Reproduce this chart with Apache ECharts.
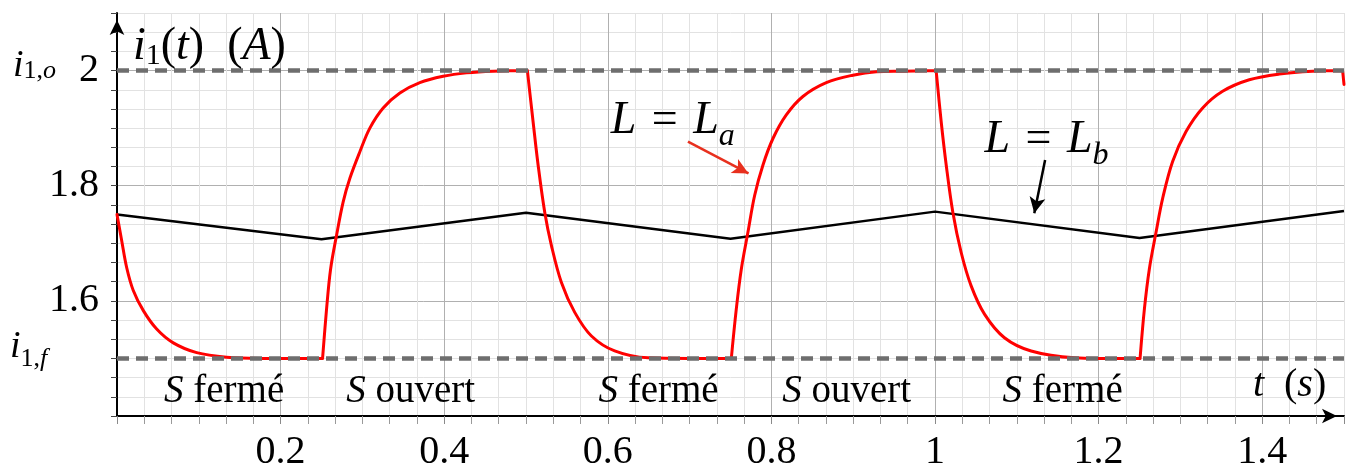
<!DOCTYPE html>
<html>
<head>
<meta charset="utf-8">
<script src="https://cdn.jsdelivr.net/npm/echarts@6/dist/echarts.min.js"></script>
<style>html,body{margin:0;padding:0;background:#fff}#c{width:1352px;height:470px}</style>
</head>
<body>
<div id="c"></div>
<script>
// ---------- data ----------
const redT = [0, 0.0057, 0.0118, 0.0199, 0.0322, 0.0485, 0.0688, 0.0974, 0.134, 0.175, 0.2513,
  0.2562, 0.2611, 0.2684, 0.2765, 0.2847, 0.2969, 0.3091, 0.3254, 0.3458, 0.3702, 0.3987, 0.4272, 0.460, 0.5017,
  0.5086, 0.5148, 0.5229, 0.5311, 0.5433, 0.5596, 0.580, 0.6084, 0.6491, 0.700, 0.7510,
  0.7571, 0.7632, 0.7713, 0.7795, 0.7897, 0.8019, 0.8182, 0.8385, 0.8671, 0.8996, 0.9282, 0.960, 1.0014,
  1.0075, 1.0137, 1.0218, 1.032, 1.0442, 1.0605, 1.0849, 1.1175, 1.1704, 1.200, 1.2507,
  1.256, 1.262, 1.2702, 1.2783, 1.2905, 1.3069, 1.3272, 1.3516, 1.3842, 1.4209, 1.4616, 1.4983, 1.5];
const redI = [1.750, 1.705, 1.658, 1.618, 1.583, 1.551, 1.527, 1.510, 1.502, 1.500, 1.500,
  1.586, 1.655, 1.714, 1.772, 1.813, 1.859, 1.900, 1.935, 1.961, 1.979, 1.990, 1.996, 1.999, 2.000,
  1.912, 1.836, 1.754, 1.696, 1.632, 1.580, 1.539, 1.513, 1.501, 1.500, 1.500,
  1.586, 1.655, 1.719, 1.783, 1.836, 1.882, 1.923, 1.955, 1.979, 1.992, 1.998, 1.999, 2.000,
  1.912, 1.836, 1.754, 1.684, 1.626, 1.577, 1.536, 1.513, 1.501, 1.500, 1.500,
  1.586, 1.655, 1.719, 1.778, 1.842, 1.894, 1.935, 1.964, 1.984, 1.994, 1.999, 2.000, 1.976];
const blackT = [0, 0.25, 0.5, 0.75, 1.0, 1.25, 1.5];
const blackI = [1.750, 1.707, 1.753, 1.708, 1.755, 1.709, 1.756];
const levelHigh = 2.0;   // i_{1,o}
const levelLow = 1.5;    // i_{1,f}
const xTickLabels = ['0.2', '0.4', '0.6', '0.8', '1', '1.2', '1.4'];
const yTickLabels = ['1.6', '1.8', '2'];
const phaseLabels = ['fermé', 'ouvert', 'fermé', 'ouvert', 'fermé'];
const phaseCenters = [0.131, 0.359, 0.662, 0.892, 1.156];

// ---------- annotation placement (not data) ----------
const phaseY = 1.4428;
const arrowA = [[0.698, 1.8765], [0.772, 1.8213]];
const arrowB = [[1.1346, 1.8445], [1.1214, 1.7521]];

const SERIF = '"Liberation Serif", "DejaVu Serif", serif';
const chart = echarts.init(document.getElementById('c'), null, {renderer: 'canvas'});

const pairs = (a, b) => a.map((t, i) => [t, b[i]]);
// red curve: break the smoothed path at the switching instants (sharp corners)
function switchedPairs(ts, vs) {
  const out = [];
  for (let i = 0; i < ts.length; i++) {
    out.push([ts[i], vs[i]]);
    const nxt = vs[i + 1];
    if (nxt === undefined) continue;
    const corner = (vs[i] === levelLow && nxt > levelLow + 0.05) ||
                   (vs[i] === levelHigh && nxt < levelHigh - 0.01);
    if (corner) { out.push([ts[i], null]); out.push([ts[i], vs[i]]); }
  }
  return out;
}
const fmt = (list) => (v) => { const s = String(+(+v).toFixed(3)); return list.includes(s) ? s : ''; };

const xSplitColors = ['#b0b0b0','#b0b0b0','#b0b0b0','#b0b0b0','#b0b0b0','#b0b0b0','#b0b0b0','#b0b0b0','#e2e2e2'];
const ySplitColors = ['#b0b0b0','#b0b0b0','#b0b0b0','#b0b0b0','#e2e2e2'];

const option = {
  animation: false,
  backgroundColor: '#fff',
  grid: {left: 117, right: 8, top: 13, bottom: 54, containLabel: false, outerBoundsMode: 'none'},
  xAxis: {
    type: 'value', min: 0, max: 1.5, interval: 0.2,
    axisLine: {show: true, onZero: false, lineStyle: {color: '#000', width: 2},
      symbol: ['none', 'arrow'], symbolSize: [11, 15], symbolOffset: [0, -7]},
    axisTick: {show: true, length: 8, lineStyle: {color: '#8a8a8a', width: 1}},
    minorTick: {show: true, splitNumber: 6, length: 8, lineStyle: {color: '#9a9a9a', width: 1}},
    axisLabel: {show: true, fontSize: 40, fontFamily: SERIF, color: '#000', margin: 16,
      showMinLabel: false, showMaxLabel: false, formatter: fmt(xTickLabels)},
    splitLine: {show: true, lineStyle: {color: xSplitColors, width: 1}},
    minorSplitLine: {show: true, lineStyle: {color: '#e2e2e2', width: 1}}
  },
  yAxis: {
    type: 'value', min: 1.4, max: 2.1, interval: 0.2,
    axisLine: {show: true, onZero: false, lineStyle: {color: '#000', width: 2},
      symbol: ['none', 'arrow'], symbolSize: [11, 15], symbolOffset: [0, -7]},
    axisTick: {show: true, length: 6, lineStyle: {color: '#444', width: 1}},
    minorTick: {show: true, splitNumber: 6, length: 6, lineStyle: {color: '#444', width: 1}},
    axisLabel: {show: true, fontSize: 40, fontFamily: SERIF, color: '#000', margin: 18,
      showMinLabel: false, showMaxLabel: false, formatter: fmt(yTickLabels)},
    splitLine: {show: true, lineStyle: {color: ySplitColors, width: 1}},
    minorSplitLine: {show: true, lineStyle: {color: '#e2e2e2', width: 1}}
  },
  series: [
    {
      name: 'L = Lb', type: 'line', data: pairs(blackT, blackI), showSymbol: false, z: 3,
      lineStyle: {color: '#000', width: 2.5}, silent: true,
      markLine: {silent: true, symbol: ['none', 'arrow'], symbolSize: [12, 16], label: {show: false},
        lineStyle: {color: '#000', width: 2.5, type: 'solid'},
        data: [[{coord: arrowB[0]}, {coord: arrowB[1]}]]}
    },
    {
      name: 'L = La', type: 'line', data: switchedPairs(redT, redI), showSymbol: false, z: 4,
      smooth: 0.35, connectNulls: false,
      lineStyle: {color: '#ff0000', width: 3, cap: 'round', join: 'round'}, silent: true,
      markLine: {silent: true, symbol: ['none', 'arrow'], symbolSize: [12, 16], label: {show: false},
        lineStyle: {color: '#e8301e', width: 2.5, type: 'solid'},
        data: [[{coord: arrowA[0]}, {coord: arrowA[1]}]]}
    },
    {
      name: 'levels', type: 'line', data: [], z: 6, silent: true,
      markLine: {silent: true, symbol: ['none', 'none'], label: {show: false}, z: 6,
        lineStyle: {color: '#6e6e6e', width: 4.5, type: [12, 7]},
        data: [{yAxis: levelHigh}, {yAxis: levelLow}]}
    }
  ]
};
chart.setOption(option);

// ---------- text annotations, placed through the chart's scales ----------
const P = (t, v) => chart.convertToPixel({gridIndex: 0}, [t, v]);
function rich(size, subSize, subPad, eqPad) {
  return {
    v: {fontFamily: SERIF, fontStyle: 'italic', fontSize: size, fill: '#000', color: '#000'},
    n: {fontFamily: SERIF, fontSize: size, fill: '#000', color: '#000'},
    e: {fontFamily: SERIF, fontSize: size, fill: '#000', color: '#000', padding: [0, eqPad || 0, 0, eqPad || 0]},
    s: {fontFamily: SERIF, fontSize: subSize, fill: '#000', color: '#000', padding: [subPad, 0, 0, 0]},
    si: {fontFamily: SERIF, fontStyle: 'italic', fontSize: subSize, fill: '#000', color: '#000', padding: [subPad, 0, 0, 0]}
  };
}
function txt(x, y, text, r, align) {
  return {type: 'text', x: x, y: y, silent: true, z: 20,
    style: {text: text, rich: r, align: align || 'left', textAlign: align || 'left',
      verticalAlign: 'middle', textVerticalAlign: 'middle', fill: '#000',
      fontFamily: SERIF, fontSize: 36}};
}
const g = [];
const o = P(0, levelHigh), f = P(0, levelLow);
g.push(txt(o[0] - 104, o[1] - 4.5, '{v|i}{s|1,}{si|o}', rich(38, 26, 11)));
g.push(txt(f[0] - 107, f[1] - 11.7, '{v|i}{s|1,}{si|f}', rich(38, 26, 24)));
const yn = P(0.0195, 2.0403);
g.push(txt(yn[0], yn[1], '{v|i}{s|1}{n|(}{v|t}{n|)  (}{v|A}{n|)}', rich(46, 30, 17)));
const xn = P(1.4783, 1.4533);
g.push(txt(xn[0], xn[1], '{v|t}{n|  (}{v|s}{n|)}', rich(40, 26, 0), 'right'));
phaseLabels.forEach((lab, i) => {
  const p = P(phaseCenters[i], phaseY);
  g.push(txt(p[0], p[1], '{v|S}{n| ' + lab + '}', rich(39, 24, 0), 'center'));
});
const la = P(0.6035, 1.9127);
g.push(txt(la[0], la[1], '{v|L}{e| = }{v|L}{si|a}', rich(46, 32, 32, 4)));
const lb = P(1.0605, 1.8795);
g.push(txt(lb[0], lb[1], '{v|L}{e| = }{v|L}{si|b}', rich(46, 32, 32, 4)));
chart.setOption({graphic: g});
</script>
</body>
</html>
